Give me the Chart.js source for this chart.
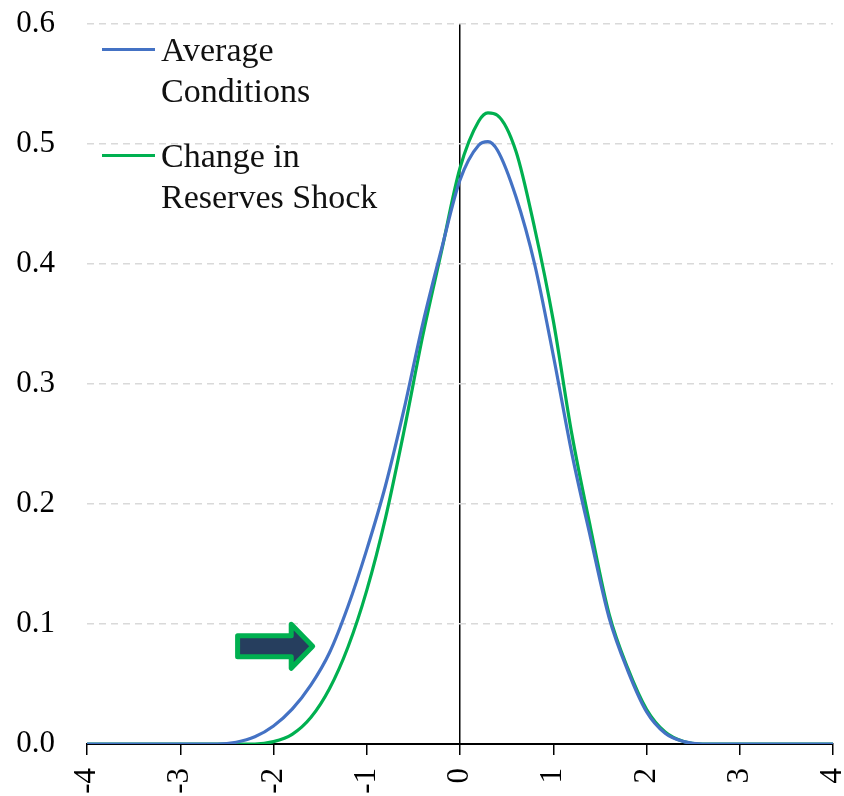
<!DOCTYPE html>
<html>
<head>
<meta charset="utf-8">
<script src="https://cdn.jsdelivr.net/npm/chart.js@4/dist/chart.umd.min.js"></script>
<style>
    body { margin: 0; background: #fff; }
    .wrap { position: relative; width: 844px; height: 796px; }
    .legend { position: absolute; left: 102px; top: 29px; font-family: 'Liberation Serif', serif; font-size: 34px; color: #111; }
    .legend_item { position: relative; padding-left: 59px; line-height: 41px; margin-bottom: 24px; }
    .legend_item span { position: absolute; left: 0; top: 19px; width: 53px; height: 3px; }
</style>
</head>
<body>
<div class="wrap">
    <canvas id="densityChart" width="844" height="796"></canvas>
    <div class="legend">
        <div class="legend_item"><span style="background:#4472C4"></span>Average<br>Conditions</div>
        <div class="legend_item"><span style="background:#00B050"></span>Change in<br>Reserves Shock</div>
    </div>
</div>
<script>
// x positions (standard deviations) and density values
const avgX = [-4, -2.6, -2.4, -2.2, -2.0, -1.8, -1.6, -1.4, -1.2, -1.0, -0.8, -0.6, -0.4, -0.2, 0.0, 0.2, 0.3, 0.4, 0.6, 0.8, 1.0, 1.2, 1.4, 1.6, 1.8, 2.0, 2.2, 2.4, 2.6, 4]
const avgY = [0, 0, 0.0015, 0.006, 0.015, 0.029, 0.049, 0.076, 0.115, 0.162, 0.215, 0.279, 0.350, 0.412, 0.470, 0.499, 0.502, 0.495, 0.456, 0.400, 0.324, 0.242, 0.172, 0.105, 0.061, 0.027, 0.009, 0.002, 0, 0]

const shockX = [-4, -2.2, -2.0, -1.8, -1.6, -1.4, -1.2, -1.0, -0.8, -0.6, -0.4, -0.2, 0.0, 0.2, 0.3, 0.4, 0.6, 0.8, 1.0, 1.2, 1.4, 1.6, 1.8, 2.0, 2.2, 2.4, 2.6, 4]
const shockY = [0, 0, 0.002, 0.008, 0.022, 0.046, 0.081, 0.128, 0.188, 0.261, 0.340, 0.410, 0.480, 0.519, 0.526, 0.524, 0.494, 0.430, 0.353, 0.258, 0.180, 0.108, 0.063, 0.029, 0.010, 0.002, 0, 0]

const xTicks = [-4, -3, -2, -1, 0, 1, 2, 3, 4]
const yTicks = [0, 0.1, 0.2, 0.3, 0.4, 0.5, 0.6]

// arrow annotation, in data units
const arrowTail = -2.385
const arrowHeadBase = -1.81
const arrowTip = -1.58
const arrowMid = 0.0814

const toPoints = (xs, ys) => xs.map((x, i) => ({ x: x, y: ys[i] }))

const arrowPlugin = {
    id: 'arrow',
    afterDatasetsDraw(chart) {
        const { ctx, scales: { x, y } } = chart
        const cy = y.getPixelForValue(arrowMid)
        const x0 = x.getPixelForValue(arrowTail)
        const x1 = x.getPixelForValue(arrowHeadBase)
        const x2 = x.getPixelForValue(arrowTip)
        const sh = 10.5, hh = 22
        ctx.save()
        ctx.beginPath()
        ctx.moveTo(x0, cy - sh)
        ctx.lineTo(x1, cy - sh)
        ctx.lineTo(x1, cy - hh)
        ctx.lineTo(x2, cy)
        ctx.lineTo(x1, cy + hh)
        ctx.lineTo(x1, cy + sh)
        ctx.lineTo(x0, cy + sh)
        ctx.closePath()
        ctx.fillStyle = '#263E5E'
        ctx.fill()
        ctx.lineJoin = 'round'
        ctx.lineWidth = 5
        ctx.strokeStyle = '#00B050'
        ctx.stroke()
        ctx.restore()
    }
}

const tickFont = { family: 'Liberation Serif', size: 31 }

new Chart(document.getElementById('densityChart').getContext('2d'), {
    type: 'line',
    data: {
        datasets: [
            {
                label: 'Average Conditions',
                data: toPoints(avgX, avgY),
                borderColor: '#4472C4',
                borderWidth: 3.2,
                pointRadius: 0,
                cubicInterpolationMode: 'monotone',
                fill: false
            },
            {
                label: 'Change in Reserves Shock',
                data: toPoints(shockX, shockY),
                borderColor: '#00B050',
                borderWidth: 3.2,
                pointRadius: 0,
                cubicInterpolationMode: 'monotone',
                fill: false
            }
        ]
    },
    options: {
        responsive: false,
        animation: false,
        layout: { padding: { top: 24, right: 11, left: 0, bottom: 0 } },
        plugins: {
            legend: { display: false },
            tooltip: { enabled: false }
        },
        scales: {
            x: {
                type: 'linear',
                min: -4,
                max: 4,
                afterFit: (s) => { s.height = 52; s.paddingLeft = 0; s.paddingRight = 0 },
                afterBuildTicks: (s) => { s.ticks = xTicks.map(v => ({ value: v })) },
                grid: {
                    color: (c) => c.tick && c.tick.value === 0 ? '#000' : 'rgba(0,0,0,0)',
                    lineWidth: 1.5,
                    tickColor: '#000',
                    tickLength: 11,
                    drawOnChartArea: true
                },
                border: { display: true, color: '#000', width: 2 },
                ticks: {
                    color: '#000',
                    font: tickFont,
                    minRotation: 90,
                    maxRotation: 90,
                    padding: 13,
                    callback: (v) => String(v)
                }
            },
            y: {
                min: 0,
                max: 0.6,
                afterFit: (s) => { s.width = 87; s.paddingTop = 0; s.paddingBottom = 0 },
                afterBuildTicks: (s) => { s.ticks = yTicks.map(v => ({ value: v })) },
                grid: {
                    color: '#D9D9D9',
                    lineWidth: 1.5,
                    drawTicks: false
                },
                border: { display: false, dash: [7, 5] },
                ticks: {
                    color: '#000',
                    font: tickFont,
                    padding: 32,
                    callback: (v) => v.toFixed(1)
                }
            }
        }
    },
    plugins: [arrowPlugin]
})
</script>
</body>
</html>
